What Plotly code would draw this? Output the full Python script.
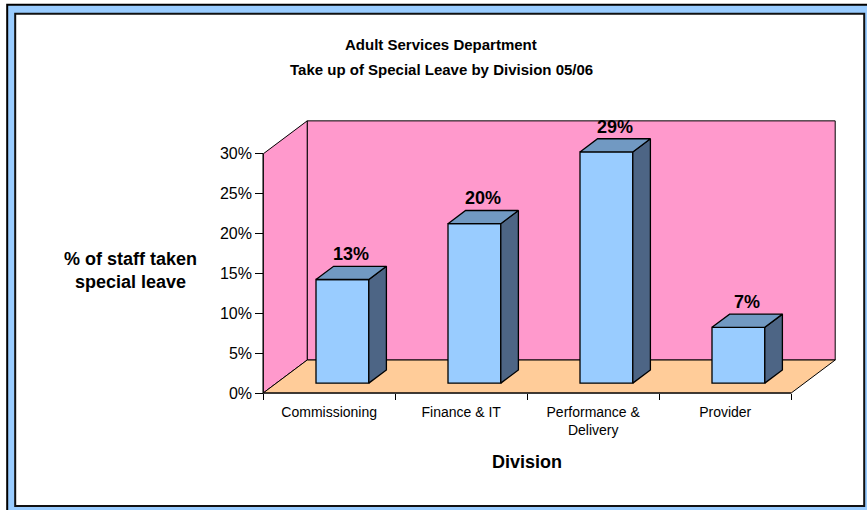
import plotly.graph_objects as go

# ---- data -------------------------------------------------------------
divisions = ["Commissioning", "Finance & IT", "Performance &<br>Delivery", "Provider"]
take_up_pct = [13, 20, 29, 7]
y_tick_values = [0, 5, 10, 15, 20, 25, 30]
y_tick_labels = ["0%", "5%", "10%", "15%", "20%", "25%", "30%"]

# ---- page & styling ---------------------------------------------------
W, H = 867, 510
FONT = "Liberation Sans, Arial, sans-serif"
WALL_PINK = "#FF99CC"
FLOOR_PEACH = "#FFCC99"
BAR_FRONT = "#99CCFF"
BAR_TOP = "#7199C2"
BAR_SIDE = "#4D6585"
FRAME_BLUE = "#99CCFF"

# oblique 3-D box, expressed in axis units
DEPTH_X = 1 / 3      # category units
DEPTH_Y = 4.14       # percentage points
BAR_W = 0.4
BAR_DEPTH = 0.4      # share of the box depth taken by a bar
BAR_OFFSET = 0.3     # how far the bar front sits behind the box front
Y_TOP = 30

# pixel frame of the axes
PX_PER_X = 132.0
PX_PER_Y = 239.0 / 30
X0_PX = 263.0        # pixel column of x = -0.5 (front-left edge)
Y0_PX = 393.0        # pixel row of y = 0 (front floor edge)
x_range = [-0.6, 3.9]
y_range = [-1.0, 35.0]

m_l = X0_PX - (-0.5 - x_range[0]) * PX_PER_X
m_r = W - (X0_PX + (x_range[1] + 0.5) * PX_PER_X)
m_b = H - (Y0_PX + (0 - y_range[0]) * PX_PER_Y)
m_t = Y0_PX - y_range[1] * PX_PER_Y
pw = W - m_l - m_r
ph = H - m_t - m_b


def px(x):
    return (x - m_l) / pw


def py(y):
    return (H - m_b - y) / ph


fig = go.Figure()

# ---- bars: front faces -------------------------------------------------
n = len(take_up_pct)
front_x = [i + BAR_OFFSET * DEPTH_X for i in range(n)]
base = BAR_OFFSET * DEPTH_Y
dxb = BAR_DEPTH * DEPTH_X
dyb = BAR_DEPTH * DEPTH_Y

fig.add_trace(go.Bar(
    x=front_x, y=take_up_pct, base=base, width=BAR_W,
    marker=dict(color=BAR_FRONT, line=dict(color="black", width=1.3)),
    hoverinfo="skip",
))

# ---- bars: top and side faces -----------------------------------------
top_x, top_y, side_x, side_y = [], [], [], []
for cx, v in zip(front_x, take_up_pct):
    x0, x1 = cx - BAR_W / 2, cx + BAR_W / 2
    t = v + base
    top_x += [x0, x1, x1 + dxb, x0 + dxb, x0, None]
    top_y += [t, t, t + dyb, t + dyb, t, None]
    side_x += [x1, x1, x1 + dxb, x1 + dxb, x1, None]
    side_y += [base, t, t + dyb, base + dyb, base, None]

fig.add_trace(go.Scatter(
    x=side_x, y=side_y, mode="lines", fill="toself", fillcolor=BAR_SIDE,
    line=dict(color="black", width=1.3), hoverinfo="skip",
))
fig.add_trace(go.Scatter(
    x=top_x, y=top_y, mode="lines", fill="toself", fillcolor=BAR_TOP,
    line=dict(color="black", width=1.3), hoverinfo="skip",
))

# ---- value labels ----------------------------------------------------
annotations = []
for cx, v in zip(front_x, take_up_pct):
    annotations.append(dict(
        x=cx + dxb / 2, y=v + base + dyb, xref="x", yref="y",
        text=f"{v}%", showarrow=False, xanchor="center", yanchor="bottom",
        font=dict(family=FONT, size=18, color="black", weight="bold"),
    ))


def paper_text(x, y, text, size):
    return dict(x=px(x), y=py(y), xref="paper", yref="paper", showarrow=False,
                xanchor="center", yanchor="middle", align="center", text=text,
                font=dict(family=FONT, size=size, color="black", weight="bold"))


# ---- titles ------------------------------------------------------------
annotations += [
    paper_text(441, 45, "Adult Services Department", 15),
    paper_text(441, 70, "Take up of Special Leave by Division 05/06", 15),
    paper_text(130, 271, "% of staff taken<br>special leave", 18),
    paper_text(527, 462, "Division", 18),
]

# ---- frame, walls and floor ---------------------------------------------
xl, xr = -0.5, n - 0.5
bx = DEPTH_X
shapes = [
    # outer blue frame
    dict(type="rect", xref="paper", yref="paper", layer="below",
         x0=px(7), x1=px(871), y0=py(5), y1=py(514),
         fillcolor=FRAME_BLUE, line=dict(color="black", width=2)),
    # white chart panel
    dict(type="rect", xref="paper", yref="paper", layer="below",
         x0=px(15), x1=px(864), y0=py(14), y1=py(506),
         fillcolor="white", line=dict(color="#111111", width=2)),
    # back wall
    dict(type="rect", xref="x", yref="y", layer="below",
         x0=xl + bx, x1=xr + bx, y0=DEPTH_Y, y1=Y_TOP + DEPTH_Y,
         fillcolor=WALL_PINK, line=dict(color="black", width=1)),
    # left wall
    dict(type="path", xref="x", yref="y", layer="below",
         path=f"M {xl},0 L {xl},{Y_TOP} L {xl + bx},{Y_TOP + DEPTH_Y} "
              f"L {xl + bx},{DEPTH_Y} Z",
         fillcolor=WALL_PINK, line=dict(color="black", width=1)),
    # floor
    dict(type="path", xref="x", yref="y", layer="below",
         path=f"M {xl},0 L {xr},0 L {xr + bx},{DEPTH_Y} L {xl + bx},{DEPTH_Y} Z",
         fillcolor=FLOOR_PEACH, line=dict(color="black", width=1)),
    # value axis line
    dict(type="line", xref="x", yref="y", x0=xl, x1=xl, y0=0, y1=Y_TOP,
         line=dict(color="black", width=1)),
    # category axis line
    dict(type="line", xref="x", yref="y", x0=xl, x1=xr, y0=0, y1=0,
         line=dict(color="black", width=1)),
]

fig.update_layout(
    width=W, height=H,
    margin=dict(l=m_l, r=m_r, t=m_t, b=m_b, pad=0),
    paper_bgcolor="white", plot_bgcolor="rgba(0,0,0,0)",
    showlegend=False,
    shapes=shapes, annotations=annotations,
    xaxis=dict(
        range=x_range, anchor="free", position=py(Y0_PX),
        tickmode="array", tickvals=list(range(n)), ticktext=divisions,
        ticks="outside", ticklen=6, tickcolor="rgba(0,0,0,0)",
        minor=dict(tickmode="array", tickvals=[i - 0.5 for i in range(n + 1)],
                   ticks="outside", ticklen=6, tickcolor="black", tickwidth=1),
        tickfont=dict(family=FONT, size=14, color="black"),
        showgrid=False, zeroline=False, showline=False, fixedrange=True,
        automargin=False,
    ),
    yaxis=dict(
        range=y_range, anchor="free", position=px(X0_PX),
        tickmode="array", tickvals=y_tick_values, ticktext=y_tick_labels,
        ticks="outside", ticklen=8, tickcolor="black", tickwidth=1,
        tickfont=dict(family=FONT, size=16, color="black"),
        showgrid=False, zeroline=False, showline=False, fixedrange=True,
        automargin=False,
    ),
)

fig.write_html("out.html")
